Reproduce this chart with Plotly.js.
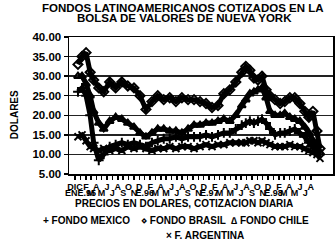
<!DOCTYPE html>
<html><head><meta charset="utf-8">
<script src="https://cdn.plot.ly/plotly-3.0.1.min.js"></script>
<style>html,body{margin:0;padding:0;background:#fff}#chart{width:335px;height:246px}</style>
</head><body><div id="chart"></div>
<script>
const fechas = ['1994-12-18','1995-01-10','1995-02-02','1995-02-25','1995-03-17','1995-04-15','1995-05-13','1995-06-16','1995-07-20','1995-08-24',
 '1995-09-27','1995-11-01','1995-12-05','1996-01-08','1996-02-11','1996-03-15','1996-04-18','1996-05-22','1996-06-26','1996-07-30',
 '1996-09-03','1996-10-07','1996-11-10','1996-12-14','1997-01-17','1997-02-20','1997-03-25','1997-04-28','1997-06-01','1997-07-05',
 '1997-07-28','1997-08-20','1997-09-12','1997-10-05','1997-10-28','1997-11-20','1997-12-12','1998-01-10','1998-02-08','1998-03-06',
 '1998-04-04','1998-05-02','1998-05-31','1998-06-28','1998-07-21','1998-08-13','1998-09-05','1998-09-22'];

const fondoBrasil = [33,35,36,31,29,27,26,28.5,27,28.5, 27.5,27,25,21.5,23.5,25,24,24.5,23.5,24.5,
 24,24,23.5,23,22,22.5,25.5,26.5,28.5,31, 32.5,31.5,29.5,29,30,26.5,25,24,23,23.5, 24.5,24.5,23,21,19.5,21,16,11.5];
const fondoChile = [30,30,28,25,21,18,16.5,18.5,19.5,19, 18,17,15.5,14.5,15.5,16.5,16.5,16,16,15.5,
 16.5,17.5,17.5,18,18,18.5,19,18.5,20,22.5, 24,25.5,26,26.5,27,24.5,21,20,20,20.5, 19.5,19,18.5,17,15.5,13.5,12,10.5];
const fondoMexico = [26,27,25,20,13,8.5,10,12,12.5,13, 12.5,13,12.5,12,13,13.5,14,14,14.5,14,
 14.5,14.5,14.5,15,14.5,15,15.5,15.5,16.5,17.5, 18,18.5,18,18.5,19,18,16.5,15,15.5,15.5, 16,16.5,15.5,14.5,13,12,11,10];
const fondoArgentina = [14.5,15,13.5,12,11.5,11,11.5,11,11.5,11, 12,11.5,12,11.5,11,11.5,11.5,12,11.5,12,
 12,11.5,12,12.5,12,12.5,12.5,13,13,13, 13,13.5,13.5,13,13.5,13,12.5,12,12,12, 12.5,12,12,11.5,11,10.5,10,9];

// Month ticks: Dec 1994 .. Aug 1998
const mesesFila1 = ['DIC','F','A','J','A','O','D','F','A','J','A','O','D','F','A','J','A','O','D','F','A','J','A'];
const mesesFila2 = ['ENE.95','M','M','J','S','N','E.96','M','M','J','S','N','E.97','M','M','J','S','N','E.98','M','M','J'];

const yTicks = [5,10,15,20,25,30,35,40];

function monthDate(i){ const y = 1994 + Math.floor((11+i)/12); const m = ((11+i)%12)+1; return y+'-'+String(m).padStart(2,'0')+'-01'; }
const tv2 = mesesFila2.map((_,k)=>monthDate(2*k+1));
const tvAll = []; for(let i=0;i<=44;i++) tvAll.push(monthDate(i));

const F = 'Liberation Sans, Arial, Helvetica, sans-serif';
const XR = ['1994-10-28','1998-12-05'];

function serie(name, y, sym){
  return {x: fechas, y: y, name: name, type:'scatter', mode:'lines+markers',
    line:{color:'#000', width:5},
    marker:{symbol:sym, size:7, color:'#000', line:{color:'#000', width:2}},
    showlegend:false, hoverinfo:'skip'};
}
const data = [
  serie('FONDO MEXICO', fondoMexico, 'cross-thin-open'),
  serie('FONDO BRASIL', fondoBrasil, 'diamond-open'),
  serie('FONDO CHILE', fondoChile, 'triangle-up-open'),
  serie('F. ARGENTINA', fondoArgentina, 'x-thin-open'),
  {x:[], y:[], xaxis:'x2', yaxis:'y', type:'scatter', mode:'markers', showlegend:false, hoverinfo:'skip'}
];

const bold = (s,c)=>({family:F, size:s, color:c||'#000', weight:700});
function ann(text,x,y,size,opts){ return Object.assign({text:text, x:x, y:y, xref:'paper', yref:'paper', showarrow:false, font:bold(size), xanchor:'center', yanchor:'middle'}, opts||{}); }

const layout = {
  width:335, height:246, margin:{l:69, r:2, t:37, b:72},
  paper_bgcolor:'#fff', plot_bgcolor:'#fff', showlegend:false,
  xaxis:{type:'date', range:XR, tickmode:'array', tickvals:tvAll,
    ticktext: tvAll.map((d,i)=> i%2===0 ? mesesFila1[i/2] : ''),
    ticks:'outside', ticklen:4, tickwidth:1.5, tickcolor:'#000', tickangle:0,
    showline:true, linecolor:'#000', linewidth:1.5, mirror:true, showgrid:false, zeroline:false,
    tickfont:bold(9)},
  xaxis2:{type:'date', range:XR, overlaying:'x', anchor:'y', side:'bottom', tickmode:'array', tickvals:tv2, ticktext:mesesFila2,
    ticks:'', showline:false, showgrid:false, zeroline:false, tickangle:0, ticklabelstandoff:12, tickfont:bold(9)},
  yaxis:{range:[5,40], tickmode:'array', tickvals:yTicks, ticktext:yTicks.map(v=>v.toFixed(2)),
    ticks:'outside', ticklen:4, tickwidth:1.5, tickcolor:'#000',
    showline:true, linecolor:'#000', linewidth:1.5, mirror:true, showgrid:true, gridcolor:'#222', gridwidth:1.5, zeroline:false,
    tickfont:bold(11.5)},
  annotations:[
    ann('FONDOS LATINOAMERICANOS COTIZADOS EN LA', 0.432, 1.212, 11.5),
    ann('BOLSA DE VALORES DE NUEVA YORK', 0.439, 1.139, 11.5),
    ann('DOLARES', -0.208, 0.43, 10, {textangle:-90}),
    ann('PRECIOS EN DOLARES, COTIZACION DIARIA', 0.436, -0.218, 10),
    ann('+ FONDO MEXICO', (41-69)/264, -0.34, 10, {xanchor:'left'}),
    ann('\u22C4 FONDO BRASIL', (139-69)/264, -0.34, 10, {xanchor:'left'}),
    ann('\u2206 FONDO CHILE', (229-69)/264, -0.34, 10, {xanchor:'left'}),
    ann('\u00D7 F. ARGENTINA', 0.515, -0.447, 10)
  ]
};
Plotly.newPlot('chart', data, layout, {staticPlot:true, displayModeBar:false});
</script></body></html>
